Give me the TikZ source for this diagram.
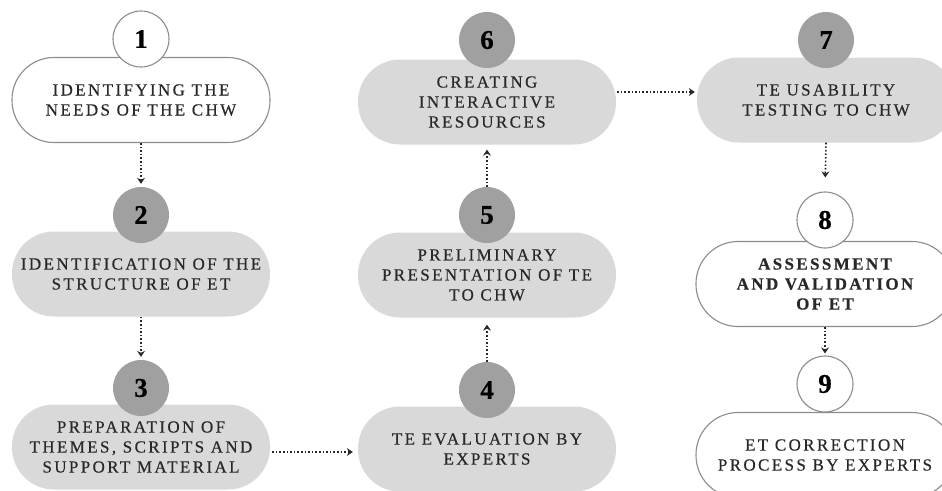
\documentclass[tikz,border=0pt]{standalone}
\usepackage{fontspec}
\setmainfont[LetterSpace=14, FakeBold=0.4]{Liberation Serif}
\usepackage{tikz}
\usetikzlibrary{arrows.meta}
\definecolor{pill}{RGB}{217, 217, 217}
\definecolor{disc}{RGB}{160, 160, 160}
\definecolor{rim}{RGB}{140, 140, 140}
\definecolor{ink}{RGB}{40, 40, 40}

\begin{document}
\begin{tikzpicture}[x=1pt, y=-1pt,
  stage/.style={rectangle, rounded corners=42pt, minimum width=258pt, minimum height=85pt,
    align=center, inner sep=0pt, text=ink, font=\fontsize{17}{20}\selectfont},
  grey/.style={stage, fill=pill},
  open/.style={stage, fill=white, draw=rim, line width=1.1pt},
  num/.style={circle, minimum size=56pt, inner sep=0pt, text=black,
    font=\fontsize{27}{27}\selectfont\bfseries},
  dnum/.style={num, fill=disc},
  onum/.style={num, fill=white, draw=rim, line width=1.1pt},
  flow/.style={dotted, line width=1.6pt, draw=ink, -{Stealth[length=6pt, width=8pt, inset=2pt]}}]
  \clip (0, 0) rectangle (942, 490);

  % first column
  \node [open] (p1) at (141, 100) {IDENTIFYING THE\\NEEDS OF THE CHW};
  \node [onum] (c1) at (141, 39) {1};
  \node [grey] (p2) at (141, 274) {IDENTIFICATION OF THE\\STRUCTURE OF ET};
  \node [dnum] (c2) at (141, 215) {2};
  \node [grey] (p3) at (141, 447) {PREPARATION OF\\THEMES, SCRIPTS AND\\SUPPORT MATERIAL};
  \node [dnum] (c3) at (141, 388) {3};

  % second column
  \node [grey] (p4) at (487, 449) {TE EVALUATION BY\\EXPERTS};
  \node [dnum] (c4) at (487, 390) {4};
  \node [grey] (p5) at (487, 275) {PRELIMINARY\\PRESENTATION OF TE\\TO CHW};
  \node [dnum] (c5) at (487, 215) {5};
  \node [grey] (p6) at (487, 102) {CREATING\\INTERACTIVE\\RESOURCES};
  \node [dnum] (c6) at (487, 40) {6};

  % third column
  \node [grey] (p7) at (826, 100) {TE USABILITY\\TESTING TO CHW};
  \node [dnum] (c7) at (826, 40) {7};
  \node [open] (p8) at (825, 284) {\bfseries ASSESSMENT\\\bfseries AND VALIDATION\\\bfseries OF ET};
  \node [onum] (c8) at (825, 220) {8};
  \node [open] (p9) at (825, 455) {ET CORRECTION\\PROCESS BY EXPERTS};
  \node [onum] (c9) at (825, 384) {9};

  \draw [flow, shorten >=3pt] (p1.south) -- (c2.north);
  \draw [flow, shorten >=3pt] (p2.south) -- (c3.north);
  \draw [flow, shorten <=2pt, shorten >=5pt] ([yshift=-5pt]p3.east) -- ([yshift=-5pt]p3.east -| p4.west);
  \draw [flow, shorten >=7pt] (c4.north) -- (p5.south);
  \draw [flow, shorten >=5pt] (c5.north) -- (p6.south);
  \draw [flow, shorten <=1pt, shorten >=2pt] ([yshift=10pt]p6.east) -- ([yshift=10pt]p6.east -| p7.west);
  \draw [flow, shorten >=14pt] (p7.south) -- (c8.north);
  \draw [flow, shorten >=2pt] (p8.south) -- (c9.north);
\end{tikzpicture}
\end{document}
